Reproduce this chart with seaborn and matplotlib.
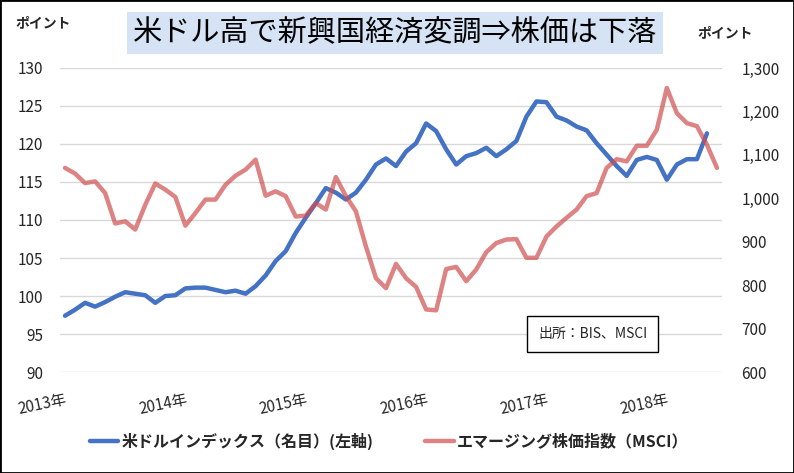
import pandas as pd
import matplotlib.pyplot as plt
import seaborn as sns
from matplotlib.patches import Rectangle

# monthly values 2013-01 .. 2018-06
dollar_index = [97.4, 98.2, 99.1, 98.6, 99.2, 99.9, 100.5, 100.3, 100.1, 99.1,
                100.0, 100.1, 101.0, 101.1, 101.1, 100.8, 100.5, 100.7, 100.3, 101.3,
                102.7, 104.6, 105.9, 108.3, 110.3, 112.2, 114.2, 113.6, 112.7, 113.6,
                115.3, 117.3, 118.1, 117.1, 119.0, 120.1, 122.7, 121.7, 119.3, 117.3,
                118.4, 118.8, 119.5, 118.4, 119.3, 120.4, 123.6, 125.6, 125.5, 123.6,
                123.1, 122.3, 121.8, 120.1, 118.6, 117.1, 115.8, 117.9, 118.3, 117.9,
                115.3, 117.3, 118.0, 118.0, 121.4]
msci_em = [1070, 1057, 1035, 1039, 1012, 942, 947, 928, 985, 1034,
           1020, 1003, 937, 966, 997, 997, 1031, 1052, 1066, 1089,
           1006, 1016, 1005, 958, 960, 989, 974, 1049, 1005, 970,
           889, 816, 793, 849, 816, 796, 744, 742, 837, 842,
           809, 836, 876, 897, 905, 906, 863, 863, 912, 935,
           955, 974, 1005, 1012, 1070, 1090, 1085, 1121, 1121, 1158,
           1254, 1196, 1173, 1166, 1123, 1070]
year_labels = ['2013年', '2014年', '2015年', '2016年', '2017年', '2018年']
left_ticks = [90, 95, 100, 105, 110, 115, 120, 125, 130]
right_ticks = [600, 700, 800, 900, 1000, 1100, 1200, 1300]

blue_df = pd.DataFrame({'month': range(len(dollar_index)), 'value': dollar_index})
red_df = pd.DataFrame({'month': range(len(msci_em)), 'value': msci_em})

sns.set_style('white')
plt.rcParams['font.family'] = ['Noto Sans CJK JP', 'DejaVu Sans']

fig = plt.figure(figsize=(7.94, 4.73), dpi=100)
ax = fig.add_axes([60 / 794, 1 - 372 / 473, 662 / 794, 304 / 473])
ax2 = ax.twinx()

sns.lineplot(data=blue_df, x='month', y='value', ax=ax, color='#4472C4',
             linewidth=3.2, label='米ドルインデックス（名目）(左軸)', legend=False)
sns.lineplot(data=red_df, x='month', y='value', ax=ax2, color='#D04E4E',
             alpha=0.7, linewidth=3.2, label='エマージング株価指数（MSCI）', legend=False)

ax.set_xlim(-0.5, len(msci_em) - 0.5)
ax.set_ylim(90, 130)
ax2.set_ylim(600, 1300)
ax.set_yticks(left_ticks)
ax2.set_yticks(right_ticks)
ax2.set_yticklabels([f'{v:,}' for v in right_ticks])
ax.set_xticks(range(0, 61, 12))
ax.set_xticklabels(year_labels, rotation=12, ha='right', rotation_mode='anchor', fontsize=10.5)
ax.grid(axis='y', color='#D9D9D9', linewidth=1)
ax.set_xlabel('')
ax.set_ylabel('')
ax2.set_ylabel('')
for a in (ax, ax2):
    for s in a.spines.values():
        s.set_visible(False)
    a.tick_params(length=0, labelsize=11, colors='#262626')
ax.tick_params(axis='y', pad=12)
ax.tick_params(axis='x', pad=14)
ax2.tick_params(axis='y', pad=14)
ax.set_zorder(ax2.get_zorder() - 1)
ax.patch.set_visible(True)
ax2.patch.set_visible(False)

fig.text(395 / 794, 1 - 33 / 473, '米ドル高で新興国経済変調⇒株価は下落', ha='center', va='center',
         fontsize=21, color='black',
         bbox=dict(facecolor='#D5E3F4', edgecolor='none', pad=4))
fig.text(15 / 794, 1 - 23 / 473, 'ポイント', ha='left', va='center', fontsize=10, fontweight='bold')
fig.text(697 / 794, 1 - 33 / 473, 'ポイント', ha='left', va='center', fontsize=10, fontweight='bold')

ax2.text(0.722, 0.125, '出所：BIS、MSCI', transform=ax2.transAxes, ha='left', va='center',
         fontsize=10, bbox=dict(facecolor='white', edgecolor='black', linewidth=1,
                                boxstyle='square,pad=0.8'))

handles = ax.get_lines()[:1] + ax2.get_lines()[:1]
fig.legend(handles, [h.get_label() for h in handles], loc='center',
           bbox_to_anchor=(389 / 794, 1 - 441 / 473), ncol=2, frameon=False,
           handlelength=1.8, columnspacing=3.2, handletextpad=0.2,
           prop={'size': 11.5, 'weight': 'bold'})

fig.patches.append(Rectangle((0, 0), 1, 1, transform=fig.transFigure, fill=False,
                             edgecolor='black', linewidth=2))

fig.savefig('out.png', dpi=100)
